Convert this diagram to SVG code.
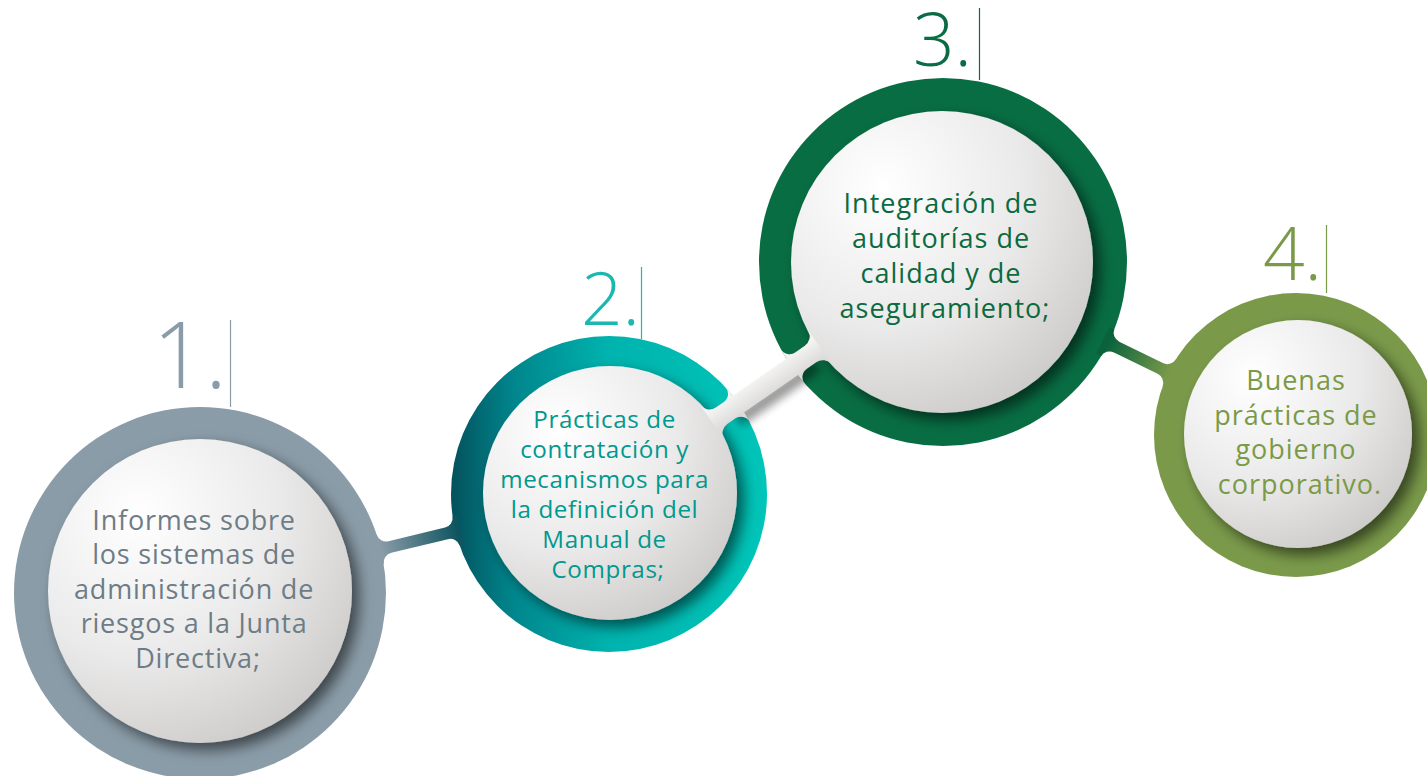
<svg xmlns="http://www.w3.org/2000/svg" width="1427" height="776" viewBox="0 0 1427 776">
<style>
.body{font-family:"Open Sans","Noto Sans","Liberation Sans",sans-serif;font-weight:400;text-anchor:middle}
.num{font-family:"Open Sans","Noto Sans","Liberation Sans",sans-serif;font-weight:300;text-anchor:end}
.inner{filter:url(#sh)}
</style>
<defs>
<filter id="sh" x="-25%" y="-25%" width="160%" height="160%">
<feDropShadow dx="7" dy="7" stdDeviation="7" flood-color="#000" flood-opacity="0.55"/>
</filter>
<filter id="blur" x="-20%" y="-100%" width="140%" height="300%">
<feGaussianBlur stdDeviation="4"/>
</filter>
<radialGradient id="gin" cx="0.3" cy="0.25" r="0.85">
<stop offset="0" stop-color="#ffffff"/>
<stop offset="0.55" stop-color="#ebeaea"/>
<stop offset="1" stop-color="#cbcac8"/>
</radialGradient>
<linearGradient id="g2" gradientUnits="userSpaceOnUse" x1="450" y1="0" x2="767" y2="0">
<stop offset="0" stop-color="#04505b"/>
<stop offset="0.2" stop-color="#00868d"/>
<stop offset="0.5" stop-color="#00b3ae"/>
<stop offset="1" stop-color="#00c5b8"/>
</linearGradient>
<linearGradient id="c12" gradientUnits="userSpaceOnUse" x1="186" y1="0" x2="264" y2="0">
<stop offset="0" stop-color="#8a9ca8"/>
<stop offset="1" stop-color="#0f5560"/>
</linearGradient>
<linearGradient id="c34" gradientUnits="userSpaceOnUse" x1="184" y1="0" x2="252" y2="0">
<stop offset="0" stop-color="#0a623d"/>
<stop offset="1" stop-color="#7a9a4a"/>
</linearGradient>
<linearGradient id="c23" gradientUnits="userSpaceOnUse" x1="0" y1="-10" x2="0" y2="10">
<stop offset="0" stop-color="#f3f3f2"/>
<stop offset="1" stop-color="#dddcda"/>
</linearGradient>
</defs>

<rect width="1427" height="776" fill="#ffffff"/>

<g id="node1">
<circle cx="200" cy="593" r="186" fill="#8a9ca8"/>
<circle class="inner" cx="200" cy="591" r="152" fill="url(#gin)"/>
<line x1="230.5" y1="320" x2="230.5" y2="407" stroke="#8a9ca8" stroke-width="1.2"/>
<text class="num" x="227" y="388" font-size="92" fill="#8a9ca8">1.</text>
<text class="body" font-size="27" letter-spacing="0.8" fill="#6e7c86">
<tspan x="198" y="529.5">Informes sobre</tspan>
<tspan x="198" y="564">los sistemas de</tspan>
<tspan x="198" y="598.5">administración de</tspan>
<tspan x="198" y="633">riesgos a la Junta</tspan>
<tspan x="198" y="667.5">Directiva;</tspan>
</text>
</g>

<g id="node2">
<circle cx="609" cy="494" r="158" fill="url(#g2)"/>
<circle class="inner" cx="610" cy="493" r="127" fill="url(#gin)"/>
<line x1="641.5" y1="267" x2="641.5" y2="339" stroke="#1ab8b0" stroke-width="1.2"/>
<text class="num" x="640" y="325" font-size="73" fill="#1ab8b0">2.</text>
<text class="body" font-size="24.2" letter-spacing="0.6" fill="#00998f">
<tspan x="608" y="428">Prácticas de</tspan>
<tspan x="608" y="458">contratación y</tspan>
<tspan x="608" y="488">mecanismos para</tspan>
<tspan x="608" y="518">la definición del</tspan>
<tspan x="608" y="548">Manual de</tspan>
<tspan x="608" y="578">Compras;</tspan>
</text>
</g>

<g id="node3">
<circle cx="943" cy="262" r="184" fill="#086d43"/>
<circle class="inner" cx="942" cy="262" r="151" fill="url(#gin)"/>
<line x1="979.5" y1="8" x2="979.5" y2="80" stroke="#0b6b43" stroke-width="1.2"/>
<text class="num" x="972" y="66" font-size="73" fill="#0b6b43">3.</text>
<text class="body" font-size="27" letter-spacing="1" fill="#0b6a3f">
<tspan x="945" y="213">Integración de</tspan>
<tspan x="945" y="248">auditorías de</tspan>
<tspan x="945" y="283">calidad y de</tspan>
<tspan x="945" y="318">aseguramiento;</tspan>
</text>
</g>

<g id="node4">
<circle cx="1296" cy="435" r="142" fill="#7a9a4a"/>
<circle class="inner" cx="1298" cy="434" r="114" fill="url(#gin)"/>
<line x1="1326.5" y1="225" x2="1326.5" y2="293" stroke="#7a9a4a" stroke-width="1.2"/>
<text class="num" x="1322" y="280" font-size="73" fill="#7a9a4a">4.</text>
<text class="body" font-size="27" letter-spacing="1" fill="#7a9a48">
<tspan x="1300" y="390">Buenas</tspan>
<tspan x="1300" y="424.5">prácticas de</tspan>
<tspan x="1300" y="459">gobierno</tspan>
<tspan x="1300" y="493.5">corporativo.</tspan>
</text>
</g>

<g id="connectors">
<path transform="translate(200,593) rotate(-13.61)" fill="url(#c12)" d="M 180,-15.18 L 185.38,-15.18 A 10 10 0 0 0 195.35,-6 L 253.56,-6 A 10 10 0 0 0 263.51,-15.05 L 268,-15.05 L 268,15.05 L 263.51,15.05 A 10 10 0 0 0 253.56,6 L 195.35,6 A 10 10 0 0 0 185.38,15.18 L 180,15.18 Z"/>
<path transform="translate(943,262) rotate(26.11)" fill="url(#c34)" d="M 178,-15.18 L 183.37,-15.18 A 10 10 0 0 0 193.34,-6 L 241.94,-6 A 10 10 0 0 0 251.89,-14.95 L 256,-14.95 L 256,14.95 L 251.89,14.95 A 10 10 0 0 0 241.94,6 L 193.34,6 A 10 10 0 0 0 183.37,15.18 L 178,15.18 Z"/>
<g transform="translate(609,494) rotate(-34.79)">
<rect x="148" y="6" width="96" height="14" fill="#000" opacity="0.4" filter="url(#blur)"/>
<path fill="url(#c23)" d="M 125.60,-20.12 A 12 12 0 0 0 137.00,-10 L 245.40,-10 A 12 12 0 0 0 257.02,-20.38 L 257.02,20.38 A 12 12 0 0 0 245.40,10 L 137.00,10 A 12 12 0 0 0 125.60,20.12 Z M 146.42,-10 A 10 10 0 0 0 156.60,-21.35 A 158 158 0 0 1 157.68,-10 Z M 146.42,10 A 10 10 0 0 1 156.60,21.35 A 158 158 0 0 0 157.68,10 Z M 234.09,-10 A 10 10 0 0 1 223.84,-21.15 A 184 184 0 0 0 222.94,-10 Z M 234.09,10 A 10 10 0 0 0 223.84,21.15 A 184 184 0 0 1 222.94,10 Z"/>
</g>
</g>
</svg>
